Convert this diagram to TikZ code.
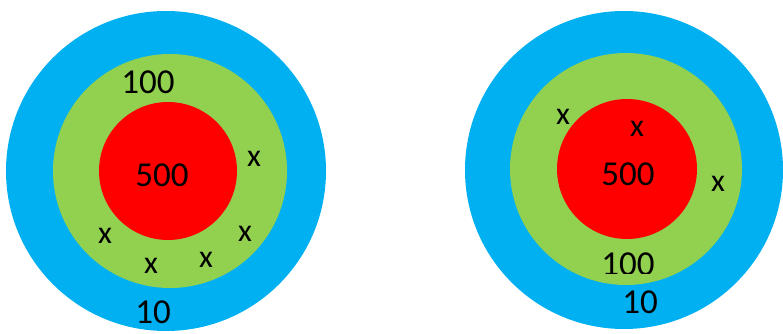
\documentclass[tikz,border=0pt]{standalone}
\usepackage{fontspec}
\setmainfont{Carlito}
\definecolor{ringblau}{RGB}{0,176,240}
\definecolor{ringgruen}{RGB}{146,208,80}
\definecolor{ringrot}{RGB}{255,0,0}
\begin{document}
\begin{tikzpicture}[x=1pt, y=-1pt, zahl/.style={inner sep=0pt, font=\fontsize{35}{38}\selectfont}, treffer/.style={inner sep=0pt, font=\fontsize{32}{34}\selectfont}]
    \useasboundingbox (0,0) rectangle (783,334);
    % Linke Scheibe
    \fill[ringblau] (166,171) circle (160pt);
    \fill[ringgruen] (170,171) circle (117pt);
    \fill[ringrot] (168,171) circle (69pt);
    \node[zahl] (lhundert) at (148,82) {100};
    \node[zahl] (lfuenfhundert) at (162,175) {500};
    \node[zahl] (lzehn) at (153,312) {10};
    \node[treffer] (la) at (254,159) {x};
    \node[treffer] (lb) at (105,236) {x};
    \node[treffer] (lc) at (151,266) {x};
    \node[treffer] (ld) at (206,260) {x};
    \node[treffer] (le) at (245,234) {x};
    
    % Rechte Scheibe
    \fill[ringblau] (624,170) circle (159pt);
    \fill[ringgruen] (626,169) circle (116pt);
    \fill[ringrot] (627,169) circle (70pt);
    \begin{scope}
        \clip (560,240) rectangle (700,273);
        \node[zahl] (rhundert) at (628,264) {100};
    \end{scope}
    \node[zahl] (rfuenfhundert) at (628,174) {500};
    \node[zahl] (rzehn) at (640,302) {10};
    \node[treffer] (ra) at (563,117) {x};
    \node[treffer] (rb) at (637,129) {x};
    \node[treffer] (rc) at (718,184) {x};
\end{tikzpicture}
\end{document}
